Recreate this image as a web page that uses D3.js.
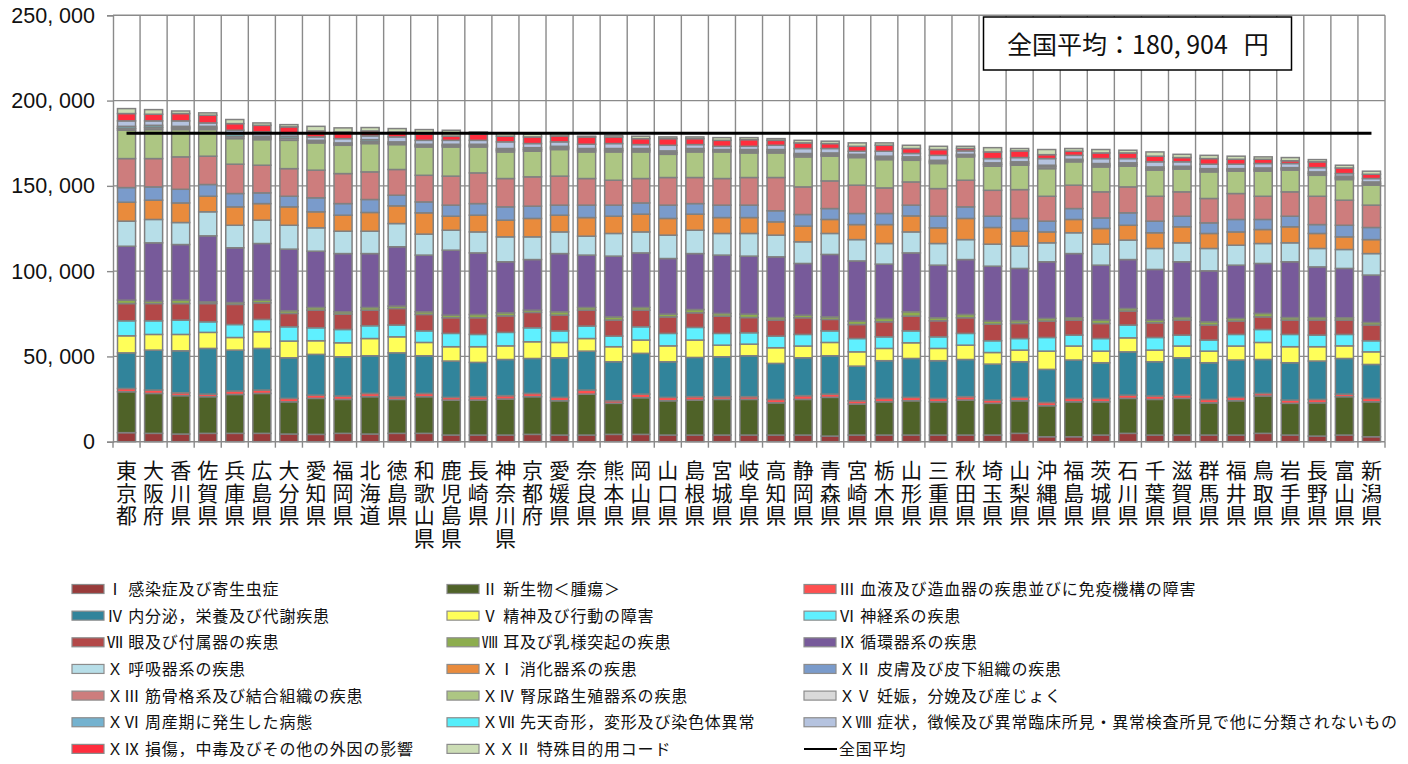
<!DOCTYPE html>
<html><head><meta charset="utf-8">
<script src="https://cdn.jsdelivr.net/npm/d3@7"></script>
<style>
body{margin:0;background:#fff}
svg{display:block}
text{font-family:"Noto Sans CJK JP","Noto Sans",sans-serif;fill:#111}
.vlabel{writing-mode:vertical-rl;text-orientation:upright}
.ytick{font-family:"Liberation Sans",Arial,sans-serif}
</style>
</head><body>
<svg id="chart" width="1408" height="764"></svg>
<script>
// ---- categories ----
const prefectures = ["東京都","大阪府","香川県","佐賀県","兵庫県","広島県","大分県","愛知県","福岡県","北海道","徳島県","和歌山県","鹿児島県","長崎県","神奈川県","京都府","愛媛県","奈良県","熊本県","岡山県","山口県","島根県","宮城県","岐阜県","高知県","静岡県","青森県","宮崎県","栃木県","山形県","三重県","秋田県","埼玉県","山梨県","沖縄県","福島県","茨城県","石川県","千葉県","滋賀県","群馬県","福井県","鳥取県","岩手県","長野県","富山県","新潟県"];

// ---- series names (legend) ----
const seriesNames = ["Ⅰ 感染症及び寄生虫症","Ⅱ 新生物＜腫瘍＞","Ⅲ 血液及び造血器の疾患並びに免疫機構の障害","Ⅳ 内分泌，栄養及び代謝疾患","Ⅴ 精神及び行動の障害","Ⅵ 神経系の疾患","Ⅶ 眼及び付属器の疾患","Ⅷ 耳及び乳様突起の疾患","Ⅸ 循環器系の疾患","Ｘ 呼吸器系の疾患","ＸⅠ 消化器系の疾患","ＸⅡ 皮膚及び皮下組織の疾患","ＸⅢ 筋骨格系及び結合組織の疾患","ＸⅣ 腎尿路生殖器系の疾患","ＸⅤ 妊娠，分娩及び産じょく","ＸⅥ 周産期に発生した病態","ＸⅦ 先天奇形，変形及び染色体異常","ＸⅧ 症状，徴候及び異常臨床所見・異常検査所見で他に分類されないもの","ＸⅨ 損傷，中毒及びその他の外因の影響","ＸＸⅡ 特殊目的用コード"];
const averageLabel = "全国平均";

// ---- series values (thousand yen, per prefecture, same order) ----
const s01 = [5.3,4.9,4.5,4.9,4.9,4.9,4.5,4.3,4.9,4.5,4.9,4.9,3.9,3.9,3.9,4.3,3.9,3.9,4.3,4.3,3.9,3.9,3.9,3.9,3.9,3.9,3.3,3.9,3.9,3.9,3.9,3.9,3.9,4.9,2.9,2.9,3.9,4.9,3.9,3.9,3.9,3.9,4.9,3.9,3.3,3.9,2.9];
const s02 = [24.0,23.4,22.5,21.5,22.8,23.4,18.9,21.1,19.9,21.9,19.9,21.5,20.5,20.5,21.1,22.1,20.1,24.0,18.2,21.5,20.1,20.5,20.9,20.9,18.9,20.9,22.7,18.2,19.5,20.1,19.5,20.5,18.6,19.1,18.2,20.5,19.5,20.5,20.9,21.5,18.9,20.1,21.9,18.6,19.5,22.5,20.5];
const s03 = [1.9,2.0,1.7,1.5,2.0,2.0,2.0,1.9,2.0,1.9,1.6,1.9,1.6,2.0,2.0,1.9,2.0,2.4,1.5,2.1,2.0,2.0,1.6,1.6,2.0,2.2,1.9,1.9,2.0,2.0,2.0,2.0,1.9,2.0,1.9,2.0,2.0,1.9,2.0,1.9,2.0,2.0,1.5,1.9,2.0,1.5,2.0];
const s04 = [20.9,23.4,24.6,26.8,24.0,24.4,23.8,23.9,23.0,22.1,25.7,22.1,21.3,20.1,21.2,20.5,23.2,22.8,22.9,23.9,20.9,23.0,23.4,24.0,21.1,22.2,22.5,20.3,22.1,22.8,22.1,21.8,21.1,20.9,19.4,22.5,20.9,25.4,20.1,21.9,21.5,21.9,19.9,21.9,22.5,20.9,19.9];
const s05 = [10.0,9.2,9.6,9.4,7.4,9.8,9.8,8.0,8.2,10.1,9.4,7.8,8.4,9.2,8.0,9.8,9.0,7.4,8.8,7.8,9.3,10.2,6.8,6.8,9.2,6.9,7.8,8.4,7.2,9.2,7.2,8.4,6.8,6.8,10.7,8.2,6.8,8.2,6.8,6.9,6.8,8.2,10.0,9.4,8.4,7.4,7.4];
const s06 = [8.8,8.0,8.4,6.2,7.6,7.2,8.4,7.6,7.8,7.5,6.9,6.8,7.8,7.2,7.9,8.2,6.8,7.3,6.2,7.8,7.3,7.4,6.9,6.7,6.8,6.8,6.8,7.8,6.8,7.0,6.8,6.9,6.9,6.8,8.0,6.4,7.4,7.5,7.4,6.4,6.5,6.8,7.6,7.2,6.8,6.7,6.5];
const s07 = [10.1,10.1,9.7,10.7,11.8,9.7,7.8,10.3,9.0,9.1,9.7,9.6,9.2,9.8,9.7,9.0,9.2,9.3,9.4,9.7,9.7,8.6,10.1,8.9,9.4,9.8,6.7,8.2,8.8,8.6,9.4,9.2,9.7,8.8,9.6,8.8,8.8,8.2,8.6,8.8,8.8,7.8,7.4,8.4,8.8,8.4,9.2];
const s08 = [2.0,1.4,2.0,1.0,1.1,1.6,1.6,1.6,1.4,1.6,1.4,1.6,1.5,1.9,1.8,1.3,2.0,1.6,1.9,1.6,1.6,1.9,1.6,2.0,1.5,1.5,1.5,2.0,2.0,2.6,1.8,1.9,1.8,1.6,1.6,1.4,2.0,1.5,1.6,1.5,1.9,1.6,2.0,1.5,1.5,1.4,1.5];
const s09 = [31.6,34.2,32.6,38.7,32.1,33.2,36.1,33.0,34.1,31.6,34.8,33.2,38.1,36.1,29.9,29.7,34.1,30.7,35.6,32.0,32.6,32.8,34.2,34.0,35.6,30.3,36.6,35.3,31.8,34.5,30.8,32.2,32.2,30.7,33.2,37.6,32.2,28.7,29.7,32.7,29.9,31.2,29.3,32.7,29.7,28.9,27.8];
const s10 = [14.7,13.7,12.9,14.1,13.2,13.7,14.0,13.7,13.1,13.1,13.6,12.3,11.7,12.3,14.6,13.3,12.7,11.1,13.3,12.3,13.7,13.7,12.7,13.3,12.7,12.7,12.3,12.5,12.1,12.3,12.7,11.7,12.9,13.0,11.1,12.2,12.3,11.4,12.3,11.1,13.1,11.7,11.7,11.1,10.8,11.1,12.6];
const s11 = [11.1,11.3,11.5,9.1,10.8,9.7,10.8,9.4,9.4,11.0,10.4,12.5,8.2,9.8,9.8,10.8,9.8,10.9,10.1,10.4,9.8,9.4,9.3,9.3,7.8,9.2,8.2,8.8,11.1,9.4,9.2,12.4,9.8,8.8,6.4,7.8,9.2,8.7,9.2,9.4,8.8,7.8,8.2,9.4,8.8,7.4,8.2];
const s12 = [8.6,7.8,8.0,6.9,7.8,6.3,6.2,8.2,6.8,7.6,6.2,6.4,6.5,6.8,7.8,7.2,5.9,7.3,6.5,6.6,7.8,6.2,7.3,7.3,6.5,6.8,6.4,6.5,6.5,6.3,6.8,6.8,6.6,7.5,6.3,6.4,6.2,7.3,6.8,6.2,6.2,7.3,5.9,6.2,5.2,6.8,7.1];
const s13 = [17.0,16.6,19.0,16.6,17.2,16.2,16.2,16.2,17.6,16.2,15.1,15.6,17.0,18.0,16.6,17.2,17.0,15.6,14.6,14.3,16.2,15.3,15.6,16.2,19.5,16.2,16.2,16.6,15.0,13.6,16.2,15.6,15.2,16.9,14.6,13.7,15.3,15.2,14.6,14.3,14.3,15.2,13.6,14.3,16.6,14.7,13.1];
const s14 = [16.6,17.0,16.0,15.6,15.0,15.0,16.6,16.0,16.6,16.6,14.6,16.6,17.1,15.2,15.6,15.0,15.6,15.6,16.6,15.6,13.6,15.0,15.6,14.4,14.4,17.6,14.5,16.2,16.6,12.7,14.7,13.7,14.1,14.3,16.2,13.7,14.6,12.1,15.3,13.3,15.6,13.1,14.7,12.7,12.3,12.1,11.7];
const s15 = [0.9,1.0,0.8,0.7,1.0,0.8,1.0,0.6,0.6,0.9,0.6,0.6,0.7,0.6,0.9,0.8,0.8,0.8,0.8,0.8,0.8,0.7,0.6,0.8,0.7,0.9,0.7,0.8,0.8,0.7,0.8,0.6,0.9,0.8,1.0,0.6,0.8,0.8,0.8,0.7,0.8,0.6,0.7,0.6,0.8,0.8,0.7];
const s16 = [0.4,0.5,0.3,0.4,0.5,0.4,0.4,0.3,0.2,0.4,0.3,0.3,0.3,0.3,0.3,0.4,0.3,0.4,0.3,0.4,0.3,0.4,0.2,0.4,0.4,0.3,0.3,0.3,0.4,0.4,0.3,0.3,0.3,0.4,0.3,0.3,0.4,0.3,0.3,0.3,0.3,0.3,0.4,0.3,0.4,0.3,0.4];
const s17 = [1.0,1.0,0.8,0.8,1.1,0.8,1.0,0.6,0.6,1.0,0.7,0.7,0.6,0.7,0.8,0.9,0.8,0.8,0.9,0.8,0.9,0.9,0.6,0.8,0.9,0.8,0.9,0.8,0.8,0.9,0.8,0.6,0.8,0.8,0.7,0.6,0.8,0.9,0.8,0.7,0.8,0.6,0.8,0.6,0.8,0.9,0.8];
const s18 = [3.2,2.6,3.2,2.0,2.3,2.5,1.9,2.0,2.5,2.2,2.9,2.3,2.3,2.3,3.9,2.4,2.6,2.5,2.9,2.3,3.3,2.3,1.9,1.9,2.5,2.9,2.6,1.8,2.9,2.0,2.9,2.0,2.5,2.5,3.9,2.3,2.9,2.5,3.0,2.6,2.6,2.6,2.6,2.4,2.5,1.5,2.0];
const s19 = [4.3,3.9,4.3,4.5,3.9,3.9,3.6,3.5,3.9,2.9,2.9,3.6,2.5,3.6,3.3,3.9,3.5,4.3,3.9,3.5,3.9,3.5,3.5,3.9,2.9,3.3,2.9,2.9,3.5,2.9,3.4,1.4,3.9,3.9,2.3,2.4,3.3,3.3,3.3,2.5,3.3,2.9,2.5,1.6,3.4,3.3,2.5];
const s22 = [2.9,2.7,1.5,1.4,2.4,1.4,1.3,2.7,2.4,2.0,2.0,2.7,3.4,1.3,1.9,1.6,1.4,0.4,1.0,1.4,1.0,1.0,1.6,1.2,1.0,1.5,1.4,2.0,1.4,1.9,1.9,1.3,2.5,1.4,3.0,1.6,2.0,1.6,2.5,1.9,1.9,1.8,1.4,1.9,1.3,1.6,1.8];
const seriesValues = [s01,s02,s03,s04,s05,s06,s07,s08,s09,s10,s11,s12,s13,s14,s15,s16,s17,s18,s19,s22];

const nationalAverage = 180904;
const yTickValues = [0,50000,100000,150000,200000,250000];
const titleText = "全国平均：180, 904 円";

const colors = ["#983b3a","#4f6228","#ff4f4f","#31849b","#ffff59","#5ff0ff","#b34848","#8dad4e","#775a9a","#b7dee8","#e98b3c","#7a9bcb","#cd7d7d","#adc683","#d9d9d9","#74b2cf","#55eefa","#b5c3df","#ff2d3d","#ccddb5"];

// ---- build table ----
const keys = seriesNames.map((_, i) => "k" + i);
const table = prefectures.map((p, j) => {
  const row = {pref: p};
  keys.forEach((k, i) => row[k] = seriesValues[i][j] * 1000);
  return row;
});
const stacked = d3.stack().keys(keys)(table);

const svg = d3.select("#chart");
const L = 113, R = 1385, T = 15.3, B = 441.7;

const x = d3.scaleBand().domain(prefectures).range([L, R]).paddingInner(1/3).paddingOuter(1/6);
const y = d3.scaleLinear().domain([0, 250000]).range([B, T]);
const step = x.step();
const boundaries = prefectures.map(p => x(p) - step/6).concat([R]);

// gridlines
const grid = svg.append("g").attr("stroke", "#8a8a8a").attr("stroke-width", 1.4);
grid.selectAll("line.h").data(yTickValues.slice(1)).join("line")
  .attr("x1", L).attr("x2", R).attr("y1", d => y(d)).attr("y2", d => y(d));
grid.selectAll("line.v").data(boundaries.slice(1)).join("line")
  .attr("x1", d => d).attr("x2", d => d).attr("y1", T).attr("y2", B);

// bars
svg.append("g").selectAll("g").data(stacked).join("g")
  .attr("fill", (d, i) => colors[i])
  .selectAll("rect").data(d => d).join("rect")
  .attr("x", d => x(d.data.pref))
  .attr("width", x.bandwidth())
  .attr("y", d => y(d[1]))
  .attr("height", d => Math.max(0, y(d[0]) - y(d[1])))
  .attr("stroke", "#808080").attr("stroke-width", 1.5);

// average line
svg.append("line")
  .attr("x1", x(prefectures[0]) + x.bandwidth()/2)
  .attr("x2", x(prefectures[prefectures.length-1]) + x.bandwidth()/2)
  .attr("y1", y(nationalAverage)).attr("y2", y(nationalAverage))
  .attr("stroke", "#000").attr("stroke-width", 3);

// y axis
const fmt = v => d3.format(",")(v).replace(/,/g, ", ");
const yAxis = svg.append("g").attr("transform", `translate(${L},0)`)
  .call(d3.axisLeft(y).tickValues(yTickValues).tickSize(6).tickPadding(12).tickFormat(fmt));
yAxis.select(".domain").attr("stroke", "#8a8a8a").attr("stroke-width", 1.4);
yAxis.selectAll(".tick line").attr("stroke", "#8a8a8a").attr("stroke-width", 1.4);
yAxis.selectAll(".tick text").attr("class", "ytick").attr("font-size", 21.5).attr("fill", "#111");

// x axis line & ticks
svg.append("line").attr("x1", L).attr("x2", R).attr("y1", B).attr("y2", B)
  .attr("stroke", "#8a8a8a").attr("stroke-width", 1.4);
svg.append("g").selectAll("line").data(boundaries).join("line")
  .attr("x1", d => d).attr("x2", d => d).attr("y1", B).attr("y2", B + 6)
  .attr("stroke", "#8a8a8a").attr("stroke-width", 1.4);

// x labels (vertical writing, one text per prefecture)
svg.append("g").selectAll("text").data(prefectures).join("text")
  .attr("class", "vlabel")
  .attr("font-size", 21)
  .attr("letter-spacing", 1.4)
  .attr("x", d => x(d) + x.bandwidth()/2)
  .attr("y", 460)
  .text(d => d);

// title box
svg.append("rect").attr("x", 983.5).attr("y", 17).attr("width", 308).attr("height", 53)
  .attr("fill", "#fff").attr("stroke", "#000").attr("stroke-width", 1.5);
const titleParts = [titleText.slice(0, titleText.lastIndexOf(" ")), titleText.slice(titleText.lastIndexOf(" ") + 1)];
const tt = svg.append("text").attr("x", 1007).attr("y", 54)
  .attr("font-size", 25).attr("fill", "#000");
tt.append("tspan").text(titleParts[0]);
tt.append("tspan").attr("dx", 16).text(titleParts[1]);

// legend
const colX = [72, 447, 804];
const rowY0 = 589, rowDY = 26.65;
const legendItems = seriesNames.map((n, i) => ({name: n, color: colors[i], type: "rect"}))
  .concat([{name: averageLabel, color: "#000", type: "line"}]);
const lg = svg.append("g").selectAll("g").data(legendItems).join("g")
  .attr("transform", (d, i) => `translate(${colX[i % 3]},${rowY0 + Math.floor(i / 3) * rowDY})`);
lg.filter(d => d.type === "rect").append("rect")
  .attr("x", 0).attr("y", -4.5).attr("width", 32).attr("height", 9)
  .attr("fill", d => d.color).attr("stroke", "#8c8c8c").attr("stroke-width", 1.2);
lg.filter(d => d.type === "line").append("line")
  .attr("x1", 0).attr("x2", 33).attr("y1", 0).attr("y2", 0)
  .attr("stroke", "#000").attr("stroke-width", 2);
lg.append("text").attr("x", 35).attr("y", 6).attr("font-size", 16)
  .attr("letter-spacing", 0.8)
  .attr("fill", "#111").text(d => d.name);
</script>
</body></html>
